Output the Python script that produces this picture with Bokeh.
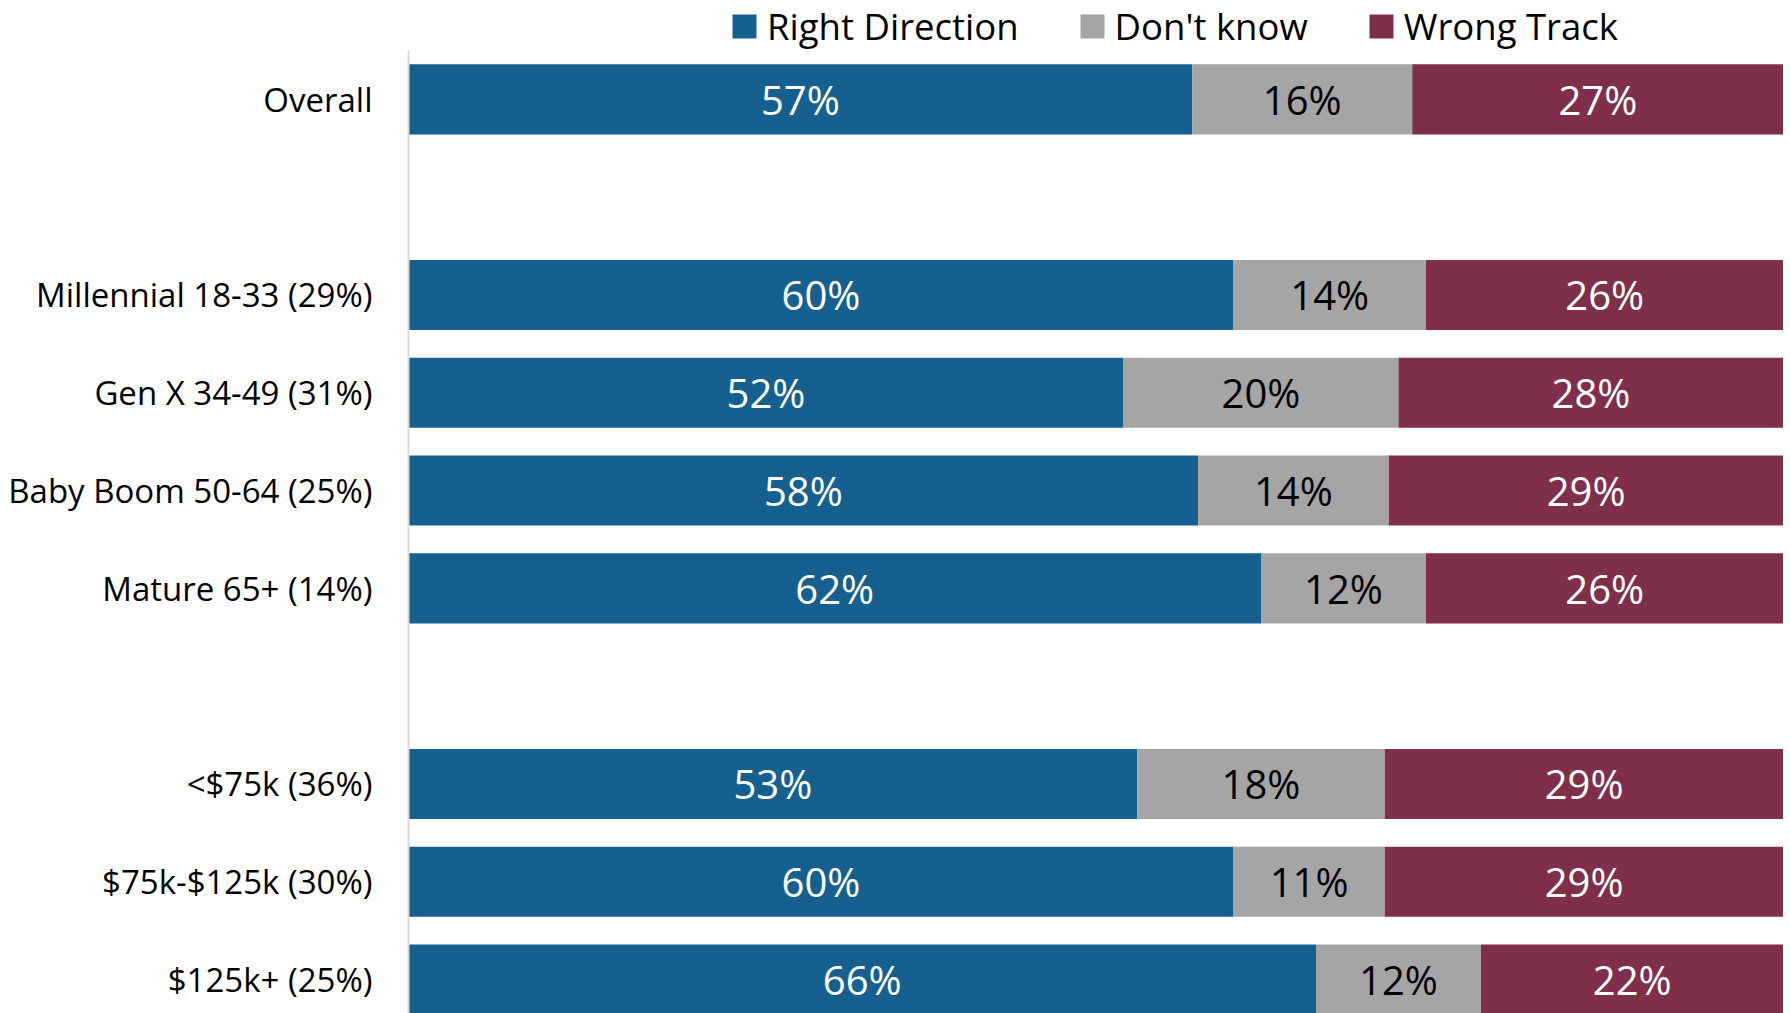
import pandas as pd
from bokeh.plotting import figure
from bokeh.models import Range1d, FixedTicker, ColumnDataSource, Legend, LegendItem
from bokeh.embed import file_html
from bokeh.resources import INLINE
from bokeh.core.properties import value

# ---- data ----
rows = ["Overall", "", "Millennial 18-33 (29%)", "Gen X 34-49 (31%)",
        "Baby Boom 50-64 (25%)", "Mature 65+ (14%)", "",
        "<$75k (36%)", "$75k-$125k (30%)", "$125k+ (25%)"]
right_direction = [57, None, 60, 52, 58, 62, None, 53, 60, 66]
dont_know = [16, None, 14, 20, 14, 12, None, 18, 11, 12]
wrong_track = [27, None, 26, 28, 29, 26, None, 29, 29, 22]
series_names = ["Right Direction", "Don't know", "Wrong Track"]
series_colors = ["#16608F", "#A5A5A5", "#7F2F4A"]
text_colors = ["white", "black", "white"]

df = pd.DataFrame({"label": rows, "rd": right_direction, "dk": dont_know, "wt": wrong_track})
df["pos"] = range(len(df))
df = df[df["label"] != ""].copy()
total = df["rd"] + df["dk"] + df["wt"]
keys = ["rd", "dk", "wt"]
left = pd.Series(0.0, index=df.index)
for k in keys:
    share = df[k] / total * 100
    df[k + "_left"] = left
    df[k + "_right"] = left + share
    df[k + "_mid"] = left + share / 2
    df[k + "_txt"] = df[k].astype(int).astype(str) + "%"
    left = left + share

src = ColumnDataSource(df)

FONT = "Open Sans"
p = figure(width=1783, height=1013, output_backend="svg", toolbar_location=None,
           x_range=Range1d(0, 100), y_range=Range1d(9.347, -1.011),
           x_axis_location=None, min_border_left=408, min_border_right=0,
           min_border_bottom=0, min_border_top=0)
p.outline_line_color = None
p.grid.visible = False

renderers = []
for k, name, col, tcol in zip(keys, series_names, series_colors, text_colors):
    r = p.hbar(y="pos", left=k + "_left", right=k + "_right", height=0.716,
               source=src, fill_color=col, line_color=None)
    renderers.append(r)
    p.text(x=k + "_mid", y="pos", text=k + "_txt", source=src,
           text_align="center", text_baseline="middle", text_color=tcol,
           text_font=value(FONT), text_font_size="40px")

yax = p.yaxis[0]
yax.ticker = FixedTicker(ticks=list(df["pos"]))
yax.major_label_overrides = {int(pp): lab for pp, lab in zip(df["pos"], df["label"])}
yax.major_label_text_font = FONT
yax.major_label_text_font_size = "33px"
yax.major_label_text_color = "black"
yax.major_label_standoff = 30
yax.major_tick_line_color = None
yax.minor_tick_line_color = None
yax.axis_line_color = "#D9D9D9"
yax.axis_line_width = 2
yax.bounds = (-0.5, 9.347)

legend = Legend(items=[LegendItem(label=n, renderers=[r]) for n, r in zip(series_names, renderers)],
                orientation="horizontal", location=(321, 962))
legend.margin = 0
legend.padding = 0
legend.spacing = 58
legend.label_standoff = 8
legend.glyph_width = 30
legend.glyph_height = 30
legend.label_height = 46
legend.label_text_font = FONT
legend.label_text_font_size = "36.5px"
legend.label_text_color = "black"
legend.border_line_color = None
legend.background_fill_alpha = 0
p.add_layout(legend, "center")

open("out.html", "w").write(file_html(p, INLINE))
